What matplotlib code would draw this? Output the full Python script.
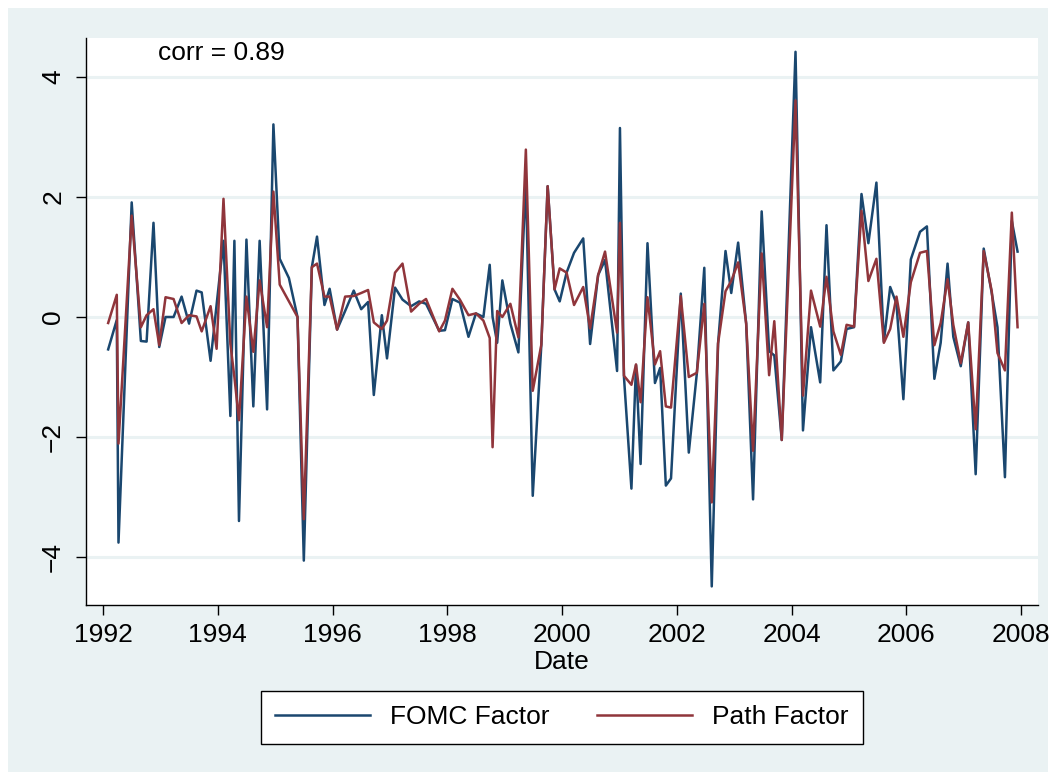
import matplotlib
matplotlib.use("Agg")
import matplotlib.pyplot as plt
from matplotlib.patches import Rectangle

# ---- data ----
dates = [1992.09, 1992.24, 1992.27, 1992.50, 1992.66, 1992.76, 1992.88, 1992.98,
         1993.09, 1993.23, 1993.37, 1993.50, 1993.63, 1993.72, 1993.875, 1993.98,
         1994.10, 1994.22, 1994.29, 1994.37, 1994.50, 1994.62, 1994.73, 1994.86, 1994.97,
         1995.08, 1995.24, 1995.39, 1995.50, 1995.64, 1995.73, 1995.86, 1995.95,
         1996.08, 1996.22, 1996.37, 1996.50, 1996.62, 1996.72, 1996.86, 1996.95,
         1997.09, 1997.22, 1997.37, 1997.51, 1997.63, 1997.86, 1997.96,
         1998.09, 1998.22, 1998.37, 1998.50, 1998.63, 1998.74, 1998.79, 1998.87, 1998.96,
         1999.10, 1999.24, 1999.37, 1999.49, 1999.64, 1999.75, 1999.87, 1999.96,
         2000.08, 2000.21, 2000.37, 2000.49, 2000.63, 2000.75, 2000.96,
         2001.01, 2001.08, 2001.21, 2001.29, 2001.37, 2001.49, 2001.62, 2001.71, 2001.81, 2001.90,
         2002.07, 2002.21, 2002.35, 2002.48, 2002.61, 2002.72, 2002.85, 2002.95,
         2003.07, 2003.21, 2003.33, 2003.48, 2003.61, 2003.70, 2003.83,
         2004.07, 2004.20, 2004.34, 2004.50, 2004.61, 2004.73, 2004.86, 2004.96,
         2005.09, 2005.22, 2005.34, 2005.48, 2005.61, 2005.72, 2005.83, 2005.95,
         2006.08, 2006.24, 2006.36, 2006.49, 2006.60, 2006.72, 2006.82, 2006.95,
         2007.08, 2007.21, 2007.35, 2007.49, 2007.59, 2007.72, 2007.84, 2007.94]

fomc_factor = [-0.54, -0.05, -3.76, 1.91, -0.40, -0.41, 1.57, -0.50,
               0.00, 0.00, 0.34, -0.11, 0.44, 0.41, -0.73, 0.20,
               1.27, -1.65, 1.27, -3.40, 1.29, -1.49, 1.27, -1.54, 3.21,
               0.97, 0.65, 0.00, -4.06, 0.83, 1.34, 0.20, 0.47,
               -0.21, 0.10, 0.44, 0.13, 0.25, -1.30, 0.03, -0.69,
               0.49, 0.29, 0.18, 0.26, 0.22, -0.23, -0.22,
               0.30, 0.24, -0.33, 0.06, 0.00, 0.87, 0.00, -0.43, 0.61,
               -0.11, -0.59, 2.30, -2.98, -0.46, 2.18, 0.46, 0.26,
               0.74, 1.07, 1.31, -0.45, 0.70, 0.95, -0.90,
               3.15, -1.00, -2.86, -0.80, -2.45, 1.23, -1.10, -0.85, -2.81, -2.69,
               0.39, -2.26, -0.94, 0.82, -4.49, -0.44, 1.10, 0.40,
               1.24, -0.11, -3.04, 1.76, -0.57, -0.64, -2.05,
               4.42, -1.89, -0.17, -1.09, 1.53, -0.89, -0.74, -0.20,
               -0.17, 2.05, 1.23, 2.24, -0.41, 0.50, 0.22, -1.37,
               0.96, 1.42, 1.51, -1.03, -0.43, 0.89, -0.33, -0.82,
               -0.09, -2.62, 1.14, 0.40, -0.17, -2.67, 1.60, 1.09]

path_factor = [-0.10, 0.37, -2.11, 1.69, -0.17, 0.03, 0.13, -0.47,
               0.33, 0.30, -0.10, 0.03, 0.01, -0.24, 0.18, -0.53,
               1.97, -0.45, -1.00, -1.72, 0.34, -0.58, 0.61, -0.17, 2.09,
               0.54, 0.26, 0.00, -3.37, 0.83, 0.89, 0.34, 0.34,
               -0.21, 0.34, 0.35, 0.40, 0.45, -0.09, -0.20, -0.06,
               0.74, 0.89, 0.09, 0.22, 0.30, -0.24, -0.06,
               0.47, 0.29, 0.03, 0.06, -0.06, -0.35, -2.17, 0.10, 0.00,
               0.22, -0.34, 2.79, -1.23, -0.46, 2.18, 0.46, 0.81,
               0.74, 0.20, 0.50, -0.19, 0.70, 1.09, -0.26,
               1.57, -0.98, -1.13, -0.79, -1.42, 0.33, -0.79, -0.57, -1.49, -1.51,
               0.35, -1.00, -0.93, 0.22, -3.09, -0.44, 0.43, 0.60,
               0.91, -0.11, -2.23, 1.06, -0.97, -0.07, -2.05,
               3.61, -1.31, 0.44, -0.16, 0.67, -0.24, -0.63, -0.13,
               -0.16, 1.77, 0.60, 0.97, -0.43, -0.20, 0.34, -0.33,
               0.58, 1.07, 1.10, -0.47, -0.10, 0.63, -0.13, -0.77,
               -0.09, -1.87, 1.10, 0.43, -0.60, -0.89, 1.74, -0.17]

x_ticks = [1992, 1994, 1996, 1998, 2000, 2002, 2004, 2006, 2008]
y_ticks = [-4, -2, 0, 2, 4]
series_labels = ["FOMC Factor", "Path Factor"]
corr_text = "corr = 0.89"
x_title = "Date"

# ---- style ----
W, H = 1056, 772
plt.rcParams['font.family'] = ['Liberation Sans', 'DejaVu Sans']
BG = "#EAF2F3"
NAVY = "#1A476F"
MAROON = "#90353B"
FS = 19

fig = plt.figure(figsize=(W / 100, H / 100), dpi=100, facecolor="white")
fig.patches.append(Rectangle((8 / W, 0), (W - 16) / W, (H - 8) / H,
                             transform=fig.transFigure, facecolor=BG,
                             edgecolor="none", zorder=-10))

left, right, top, bottom = 86, 1038, 38, 605
ax = fig.add_axes([left / W, (H - bottom) / H, (right - left) / W, (bottom - top) / H])
ax.set_facecolor("white")

ax.plot(dates, fomc_factor, color=NAVY, lw=1.8, label=series_labels[0], zorder=3)
ax.plot(dates, path_factor, color=MAROON, lw=1.8, label=series_labels[1], zorder=4)

ax.set_xlim(1992 - 17 / 57.375, 2008 + 17 / 57.375)
ax.set_ylim(-4.80, 4.65)
ax.set_xticks(x_ticks)
ax.set_yticks(y_ticks)
ax.set_xticklabels([str(t) for t in x_ticks], fontsize=FS)
ax.set_yticklabels([f"{t}".replace("-", "\u2212") for t in y_ticks], fontsize=FS,
                   rotation=90, va="center")
ax.tick_params(axis="x", length=7, width=1, pad=6, color="black")
ax.tick_params(axis="y", length=7, width=1, pad=8, color="black")
ax.grid(axis="y", color=BG, lw=2.2, zorder=0)
ax.set_axisbelow(True)
for s in ["top", "right"]:
    ax.spines[s].set_visible(False)
for s in ["left", "bottom"]:
    ax.spines[s].set_color("black")
    ax.spines[s].set_linewidth(1.0)

ax.set_xlabel(x_title, fontsize=FS, labelpad=2)
ax.text(158, 52, corr_text, transform=None, fontsize=FS, va="center", ha="left")
# place corr text in pixel coordinates (display coords origin bottom-left)
ax.texts[-1].set_position((158, H - 53))

leg = fig.legend(loc="center", bbox_to_anchor=(562 / W, 1 - 717.5 / H), ncol=2,
                 fontsize=FS, frameon=True, fancybox=False, handlelength=3.6,
                 handletextpad=0.75, columnspacing=1.8, borderpad=0.55,
                 edgecolor="black", facecolor="white", framealpha=1)
leg.get_frame().set_linewidth(1.0)

fig.savefig("out.png", dpi=100, facecolor=fig.get_facecolor())
